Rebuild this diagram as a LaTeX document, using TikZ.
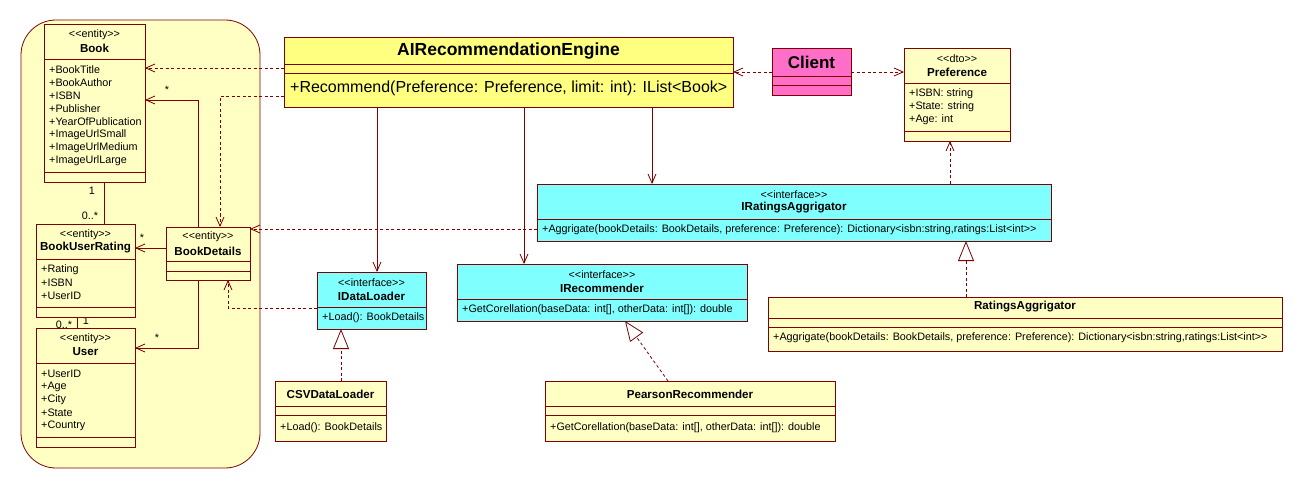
\documentclass[tikz,border=0pt]{standalone}
\usepackage{fontspec}
\setmainfont{Liberation Sans}[Ligatures=TeXOff]
\usetikzlibrary{arrows.meta}
\definecolor{ln}{HTML}{800000}
\definecolor{pale}{HTML}{FFFFC4}
\definecolor{eng}{HTML}{FFFF80}
\definecolor{cyn}{HTML}{80FFFF}
\definecolor{pinkc}{HTML}{FF6EC7}
\begin{document}
\begin{tikzpicture}[x=1pt,y=-1pt,
  box/.style={draw=ln, line width=0.8pt, anchor=north west, inner sep=0pt, outer sep=0pt},
  sm/.style={font=\fontsize{10.8}{12}\selectfont, inner sep=0pt},
  smb/.style={font=\bfseries\fontsize{11.6}{13}\selectfont, inner sep=0pt},
  attr/.style={sm, anchor=west},
  sepl/.style={draw=ln, line width=0.8pt},
  conn/.style={draw=ln, line width=0.8pt},
  dep/.style={conn, dash pattern=on 3pt off 2.5pt, -{Straight Barb[length=9pt,width=8pt]}},
  assoc/.style={conn, -{Straight Barb[length=9pt,width=8pt]}},
  real/.style={conn, dash pattern=on 3pt off 2.5pt, -{Triangle[open, length=20pt, width=16pt, fill=white]}},
]
\useasboundingbox (0,0) rectangle (1303,489);
\fill[white] (0,0) rectangle (1303,489);

% package
\draw[draw=ln, fill=pale, line width=0.8pt, rounded corners=35pt] (21,20) rectangle (260,468);

% multiplicity labels (behind boxes)
\node[sm] (m1) at (92,191) {1};
\node[sm] (m2) at (90,216) {0..*};
\node[sm] (m3) at (86,321) {1};
\node[sm] (m4) at (64,325) {0..*};
\node[sm] (m5) at (167,90) {*};
\node[sm] (m6) at (142,238) {*};
\node[sm] (m7) at (157,338) {*};

% Book
\node[box, fill=pale, minimum width=101pt, minimum height=158pt] (book) at (44,24) {};
\draw[sepl] (book.west |- 0,59) -- (book.east |- 0,59);
\draw[sepl] (book.west |- 0,172) -- (book.east |- 0,172);
\node[sm] at (94.5,35) {<<entity>>};
\node[smb] at (94.5,48) {Book};
\node[attr] at (49,70) {+BookTitle};
\node[attr] at (49,83) {+BookAuthor};
\node[attr] at (49,96) {+ISBN};
\node[attr] at (49,109) {+Publisher};
\node[attr] at (49,122) {+YearOfPublication};
\node[attr] at (49,135) {+ImageUrlSmall};
\node[attr] at (49,148) {+ImageUrlMedium};
\node[attr] at (49,160.5) {+ImageUrlLarge};

% BookUserRating
\node[box, fill=pale, minimum width=99pt, minimum height=93pt] (bur) at (36,224) {};
\draw[sepl] (bur.west |- 0,259) -- (bur.east |- 0,259);
\draw[sepl] (bur.west |- 0,307) -- (bur.east |- 0,307);
\node[sm] at (85.5,235) {<<entity>>};
\node[smb] at (85.5,248) {BookUserRating};
\node[attr] at (41,270) {+Rating};
\node[attr] at (41,283) {+ISBN};
\node[attr] at (41,296) {+UserID};

% User
\node[box, fill=pale, minimum width=99pt, minimum height=119pt] (user) at (36,328) {};
\draw[sepl] (user.west |- 0,363) -- (user.east |- 0,363);
\draw[sepl] (user.west |- 0,437) -- (user.east |- 0,437);
\node[sm] at (85.5,339) {<<entity>>};
\node[smb] at (85.5,352) {User};
\node[attr] at (41,374) {+UserID};
\node[attr] at (41,387) {+Age};
\node[attr] at (41,400) {+City};
\node[attr] at (41,413) {+State};
\node[attr] at (41,426) {+Country};

% BookDetails
\node[box, fill=pale, minimum width=84pt, minimum height=53pt] (bd) at (166,227) {};
\draw[sepl] (bd.west |- 0,261) -- (bd.east |- 0,261);
\draw[sepl] (bd.west |- 0,271) -- (bd.east |- 0,271);
\node[sm] at (208,237) {<<entity>>};
\node[smb] at (208,251) {BookDetails};

% Engine
\node[box, fill=eng, minimum width=449pt, minimum height=70pt] (eng) at (284,37) {};
\draw[sepl] (eng.west |- 0,64) -- (eng.east |- 0,64);
\draw[sepl] (eng.west |- 0,73) -- (eng.east |- 0,73);
\node[font=\bfseries\fontsize{17.5}{20}\selectfont, inner sep=0pt] at (508.5,51) {AIRecommendationEngine};
\node[font=\fontsize{16}{19}\selectfont, inner sep=0pt, anchor=west] at (290,88) {+Recommend(Preference: Preference, limit: int): IList<Book>};

% Client
\node[box, fill=pinkc, minimum width=79pt, minimum height=47pt] (client) at (772,48) {};
\draw[sepl] (client.west |- 0,76) -- (client.east |- 0,76);
\draw[sepl] (client.west |- 0,85) -- (client.east |- 0,85);
\node[font=\bfseries\fontsize{17}{20}\selectfont, inner sep=0pt] at (811.5,62) {Client};

% Preference
\node[box, fill=pale, minimum width=106pt, minimum height=93pt] (pref) at (904,48) {};
\draw[sepl] (pref.west |- 0,83) -- (pref.east |- 0,83);
\draw[sepl] (pref.west |- 0,131) -- (pref.east |- 0,131);
\node[sm] at (957,59) {<<dto>>};
\node[smb] at (957,72) {Preference};
\node[attr] at (909,94) {+ISBN: string};
\node[attr] at (909,107) {+State: string};
\node[attr] at (909,120) {+Age: int};

% IRatingsAggrigator
\node[box, fill=cyn, minimum width=514pt, minimum height=57pt] (ira) at (537,184) {};
\draw[sepl] (ira.west |- 0,219) -- (ira.east |- 0,219);
\node[sm] at (794,195) {<<interface>>};
\node[smb] at (794,208) {IRatingsAggrigator};
\node[attr] at (542,230) {+Aggrigate(bookDetails: BookDetails, preference: Preference): Dictionary<isbn:string,ratings:List<int>>};

% IDataLoader
\node[box, fill=cyn, minimum width=109pt, minimum height=57pt] (idl) at (317,272) {};
\draw[sepl] (idl.west |- 0,307) -- (idl.east |- 0,307);
\node[sm] at (371.5,283) {<<interface>>};
\node[smb] at (371.5,296) {IDataLoader};
\node[attr] at (322,318) {+Load(): BookDetails};

% IRecommender
\node[box, fill=cyn, minimum width=290pt, minimum height=57pt] (irec) at (457,264) {};
\draw[sepl] (irec.west |- 0,299) -- (irec.east |- 0,299);
\node[sm] at (602,275) {<<interface>>};
\node[smb] at (602,288) {IRecommender};
\node[attr] at (462,310) {+GetCorellation(baseData: int[], otherData: int[]): double};

% RatingsAggrigator
\node[box, fill=pale, minimum width=514pt, minimum height=54pt] (ra) at (768,297) {};
\draw[sepl] (ra.west |- 0,318) -- (ra.east |- 0,318);
\draw[sepl] (ra.west |- 0,327) -- (ra.east |- 0,327);
\node[smb] at (1025,307) {RatingsAggrigator};
\node[attr] at (773,338) {+Aggrigate(bookDetails: BookDetails, preference: Preference): Dictionary<isbn:string,ratings:List<int>>};

% CSVDataLoader
\node[box, fill=pale, minimum width=111pt, minimum height=60pt] (csv) at (275,381) {};
\draw[sepl] (csv.west |- 0,406) -- (csv.east |- 0,406);
\draw[sepl] (csv.west |- 0,415) -- (csv.east |- 0,415);
\node[smb] at (330.5,394) {CSVDataLoader};
\node[attr] at (280,428) {+Load(): BookDetails};

% PearsonRecommender
\node[box, fill=pale, minimum width=290pt, minimum height=60pt] (pear) at (545,381) {};
\draw[sepl] (pear.west |- 0,406) -- (pear.east |- 0,406);
\draw[sepl] (pear.west |- 0,415) -- (pear.east |- 0,415);
\node[smb] at (690,394) {PearsonRecommender};
\node[attr] at (550,428) {+GetCorellation(baseData: int[], otherData: int[]): double};

% associations inside package
\draw[conn] (104,0 |- book.south) -- (104,0 |- bur.north);
\draw[conn] (77,0 |- bur.south) -- (77,0 |- user.north);
\draw[assoc] (198,0 |- bd.north) -- (198,100) -- (book.east |- 0,100);
\draw[assoc] (bd.west |- 0,248) -- (bur.east |- 0,248);
\draw[assoc] (198,0 |- bd.south) -- (198,348) -- (user.east |- 0,348);

% engine associations
\draw[assoc] (377,0 |- eng.south) -- (377,0 |- idl.north);
\draw[assoc] (524,0 |- eng.south) -- (524,0 |- irec.north);
\draw[assoc] (652,0 |- eng.south) -- (652,0 |- ira.north);

% dependencies
\draw[dep] (eng.west |- 0,68) -- (book.east |- 0,68);
\draw[dep] (eng.west |- 0,96) -- (220,96) -- (220,0 |- bd.north);
\draw[dep] (client.west |- 0,72) -- (eng.east |- 0,72);
\draw[dep] (client.east |- 0,72) -- (pref.west |- 0,72);
\draw[dep] (ira.west |- 0,229) -- (bd.east |- 0,229);
\draw[dep] (idl.west |- 0,308) -- (228,308) -- (228,0 |- bd.south);
\draw[dep] (950,0 |- ira.north) -- (950,0 |- pref.south);

% realizations
\draw[real] (341,0 |- csv.north) -- (341,0 |- idl.south);
\draw[real] ([xshift=-22pt]pear.north) -- ([xshift=23pt]irec.south);
\draw[real] (966,0 |- ra.north) -- (966,0 |- ira.south);
\end{tikzpicture}
\end{document}
